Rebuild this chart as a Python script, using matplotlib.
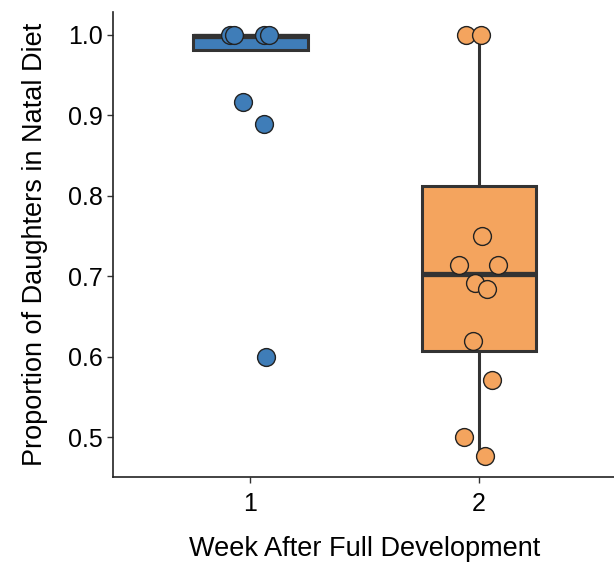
import matplotlib.pyplot as plt

plt.rcParams['font.family'] = ['Liberation Sans', 'DejaVu Sans']

weeks = [1, 2]
box_colors = ['#3F7DB8', '#F4A45E']

# box statistics
q1 = [0.981, 0.607]
med = [0.999, 0.703]
q3 = [1.0, 0.812]
whislo = [0.981, 0.476]
whishi = [1.0, 1.0]

# individual points (value, jitter offset)
w1_vals = [1.0, 1.0, 1.0, 1.0, 0.917, 0.889, 0.6]
w1_jit = [-0.09, -0.07, 0.06, 0.08, -0.03, 0.06, 0.07]
w2_vals = [1.0, 1.0, 0.75, 0.714, 0.714, 0.692, 0.684, 0.619, 0.571, 0.5, 0.476]
w2_jit = [-0.057, 0.01, 0.013, -0.09, 0.083, -0.02, 0.035, -0.026, 0.057, -0.066, 0.026]

fig = plt.figure(figsize=(6.14, 5.62), dpi=100)
ax = fig.add_axes([0.184, 0.151, 0.82, 0.828])

stats = []
for i in range(2):
    stats.append({'q1': q1[i], 'med': med[i], 'q3': q3[i],
                  'whislo': whislo[i], 'whishi': whishi[i], 'fliers': []})

edge = '#333333'
bp = ax.bxp(stats, positions=weeks, widths=0.5, patch_artist=True,
            showcaps=False, showfliers=False,
            boxprops=dict(edgecolor=edge, linewidth=2.2),
            whiskerprops=dict(color=edge, linewidth=2.2),
            medianprops=dict(color=edge, linewidth=3.8, solid_capstyle='butt'),
            zorder=2)
for patch, c in zip(bp['boxes'], box_colors):
    patch.set_facecolor(c)

ax.scatter([weeks[0] + j for j in w1_jit], w1_vals, s=165, color=box_colors[0],
           edgecolor='#222222', linewidth=1.0, zorder=3)
ax.scatter([weeks[1] + j for j in w2_jit], w2_vals, s=165, color=box_colors[1],
           edgecolor='#222222', linewidth=1.0, zorder=3)

ax.set_xlim(0.4, 2.6)
ax.set_ylim(0.4502, 1.0286)
ax.set_xticks(weeks)
ax.set_xticklabels(['1', '2'])
ax.set_yticks([0.5, 0.6, 0.7, 0.8, 0.9, 1.0])
ax.set_yticklabels(['0.5', '0.6', '0.7', '0.8', '0.9', '1.0'])

for s in ['top', 'right']:
    ax.spines[s].set_visible(False)
for s in ['left', 'bottom']:
    ax.spines[s].set_linewidth(1.2)
    ax.spines[s].set_color('#222222')
ax.tick_params(labelsize=18, length=4, width=1.0, color='#333333')
ax.tick_params(axis='x', pad=7)

ax.set_xlabel('Week After Full Development', fontsize=19.5, labelpad=14)
ax.set_ylabel('Proportion of Daughters in Natal Diet', fontsize=19.5, labelpad=14)

fig.savefig('out.png', dpi=100)
